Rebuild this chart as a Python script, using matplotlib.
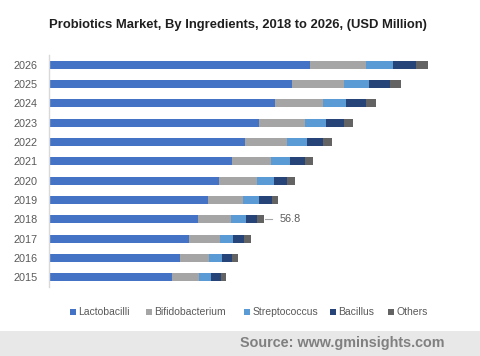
import matplotlib
matplotlib.use("Agg")
import matplotlib.pyplot as plt
from matplotlib.patches import Rectangle

plt.rcParams["font.family"] = ["Liberation Sans", "DejaVu Sans"]

years = ["2015", "2016", "2017", "2018", "2019", "2020", "2021", "2022", "2023", "2024", "2025", "2026"]
lactobacilli    = [32.5, 34.6, 37.0, 39.4, 42.0, 44.9, 48.3, 51.8, 55.5, 59.7, 64.2, 69.0]
bifidobacterium = [7.1, 7.7, 8.2, 8.7, 9.2, 10.0, 10.3, 11.1, 12.2, 12.7, 13.7, 14.8]
streptococcus   = [3.2, 3.4, 3.4, 4.0, 4.2, 4.5, 5.0, 5.3, 5.5, 6.1, 6.6, 7.1]
bacillus        = [2.6, 2.6, 2.9, 2.9, 3.4, 3.4, 4.0, 4.2, 4.8, 5.3, 5.5, 6.1]
others          = [1.3, 1.6, 1.8, 1.8, 1.8, 2.1, 2.1, 2.4, 2.4, 2.6, 2.9, 3.2]
series_names = ["Lactobacilli", "Bifidobacterium", "Streptococcus", "Bacillus", "Others"]
annot_year = "2018"
annot_value = "56.8"

colors = ["#4472C4", "#A5A5A5", "#5B9BD5", "#264478", "#636363"]
series = [lactobacilli, bifidobacterium, streptococcus, bacillus, others]

W, H = 480, 356
fig = plt.figure(figsize=(4.8, 3.56), dpi=100)
ax = fig.add_axes([49/W, 1-287/H, (470-49)/W, (287-55)/H])

y = list(range(len(years)))
left = [0.0]*len(years)
for name, vals, c in zip(series_names, series, colors):
    ax.barh(y, vals, left=left, height=0.42, color=c, label=name)
    left = [l+v for l, v in zip(left, vals)]

ax.set_ylim(-0.5, len(years)-0.5)
ax.set_xlim(0, (470-49)/3.785)
ax.set_yticks(y)
ax.set_yticklabels(years, fontsize=7.8, color="#595959")
ax.tick_params(axis="y", length=0, pad=8)
ax.set_xticks([])
for s in ["top", "right", "bottom"]:
    ax.spines[s].set_visible(False)
ax.spines["left"].set_color("#D9D9D9")
ax.spines["left"].set_linewidth(1.0)

# annotation
i = years.index(annot_year)
tot = left[i]
ax.plot([tot+0.3, tot+2.2], [i, i], color="#A6A6A6", lw=0.8)
ax.text(tot+4.0, i, annot_value, va="center", ha="left", fontsize=7.8, color="#595959")

fig.text(237.5/W, 1-25/H, "Probiotics Market, By Ingredients, 2018 to 2026, (USD Million)",
         ha="center", va="center", fontsize=9.4, fontweight="bold", color="#1F1F1F")

# legend
marker_x = [70, 146, 244, 330, 388]
ly = 312
for mx, name, c in zip(marker_x, series_names, colors):
    fig.patches.append(Rectangle((mx/W, 1-(ly+3)/H), 6/W, 6/H, transform=fig.transFigure,
                                 facecolor=c, edgecolor="none"))
    fig.text((mx+8.5)/W, 1-ly/H, name, ha="left", va="center", fontsize=7.5, color="#595959")

fig.patches.append(Rectangle((0, 0), 1, 25/H, transform=fig.transFigure,
                             facecolor="#E8E8E8", edgecolor="none", zorder=0))
fig.text(445/W, 12.5/H, "Source: www.gminsights.com", ha="right", va="center",
         fontsize=10.4, fontweight="bold", color="#808080")

fig.savefig("out.png", dpi=100)
